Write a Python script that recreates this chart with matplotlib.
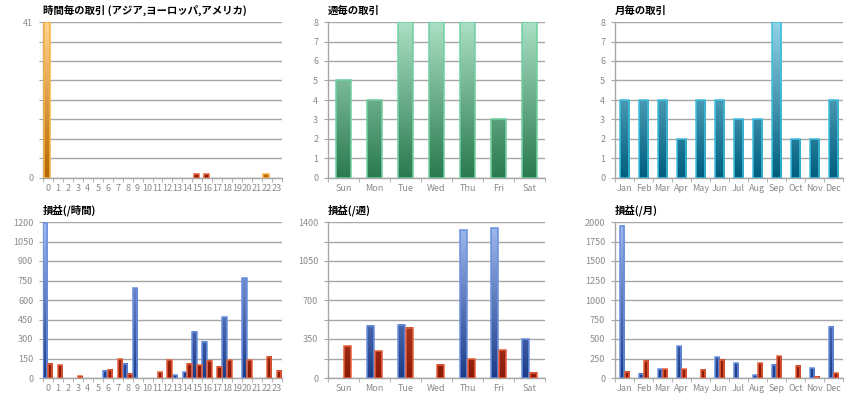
import numpy as np
import matplotlib
matplotlib.use('Agg')
import matplotlib.pyplot as plt
from matplotlib.colors import LinearSegmentedColormap

plt.rcParams['font.family'] = ['Noto Sans CJK JP', 'DejaVu Sans']

hours = [str(h) for h in range(24)]
days = ['Sun', 'Mon', 'Tue', 'Wed', 'Thu', 'Fri', 'Sat']
months = ['Jan', 'Feb', 'Mar', 'Apr', 'May', 'Jun',
          'Jul', 'Aug', 'Sep', 'Oct', 'Nov', 'Dec']

# 取引件数
hour_count_orange = [41, 0, 0, 0, 0, 0, 0, 0, 0, 0, 0, 0,
                     0, 0, 0, 0, 0, 0, 0, 0, 0, 0, 1, 0]
hour_count_red = [0, 0, 0, 0, 0, 0, 0, 0, 0, 0, 0, 0,
                  0, 0, 0, 1, 1, 0, 0, 0, 0, 0, 0, 0]
day_count = [5, 4, 8, 8, 8, 3, 8]
month_count = [4, 4, 4, 2, 4, 4, 3, 3, 8, 2, 2, 4]

# 損益
hour_pl_blue = [1190, 0, 0, 0, 0, 0, 54, 0, 108, 692, 0, 0,
                0, 23, 46, 354, 277, 0, 469, 0, 769, 0, 0, 0]
hour_pl_red = [108, 100, 0, 15, 0, 0, 62, 144, 31, 0, 0, 46,
               138, 0, 108, 100, 131, 85, 138, 0, 138, 0, 162, 54]
day_pl_blue = [0, 467, 476, 0, 1328, 1346, 350]
day_pl_red = [287, 242, 452, 117, 167, 251, 45]
month_pl_blue = [1949, 56, 115, 410, 0, 269, 192, 38, 167, 0, 128, 654]
month_pl_red = [77, 218, 115, 115, 103, 231, 0, 192, 282, 154, 13, 64]

orange = (LinearSegmentedColormap.from_list('o', ['#b56800', '#ffd28e']), '#f8b040')
red = (LinearSegmentedColormap.from_list('r', ['#8a1a08', '#e2704e']), '#e8603c')
green = (LinearSegmentedColormap.from_list('g', ['#2a7a50', '#aadfc4']), '#70d0a0')
teal = (LinearSegmentedColormap.from_list('t', ['#005e7e', '#90d2e6']), '#40c0e0')
blue = (LinearSegmentedColormap.from_list('b', ['#1c3c88', '#a2bcf0']), '#6a90e0')

GRID = '#a6a6a6'
TEXT = '#8a8a8a'


def grad_bars(ax, values, offset, width, style, ymax):
    cmap, edge = style
    for i, v in enumerate(values):
        if v <= 0:
            continue
        x0 = i + offset - width / 2
        g = np.linspace(0, v / ymax, 80).reshape(-1, 1)
        ax.imshow(g, extent=(x0, x0 + width, 0, v), origin='lower', cmap=cmap,
                  vmin=0, vmax=1, aspect='auto', zorder=3, interpolation='bilinear')
    xs = [i + offset for i in range(len(values))]
    hs = [v if v > 0 else np.nan for v in values]
    ax.bar(xs, hs, width, fill=False, edgecolor=edge, linewidth=1.1, zorder=4)


def setup(ax, labels, ymax, label_every=1, only_ends=False, title=''):
    n = len(labels)
    ax.set_xlim(-0.5, n - 0.5)
    ax.set_ylim(0, ymax)
    yt = np.linspace(0, ymax, 9)
    ax.set_yticks(yt)
    if only_ends:
        ylab = [str(int(ymax)) if k == 8 else ('0' if k == 0 else '') for k in range(9)]
    else:
        ylab = [str(int(round(v))) if k % label_every == 0 else '' for k, v in enumerate(yt)]
    ax.set_yticklabels(ylab)
    ax.set_xticks(range(n))
    ax.set_xticklabels(labels)
    ax.set_xticks(np.arange(n + 1) - 0.5, minor=True)
    ax.tick_params(axis='x', which='major', length=0, pad=4, labelsize=6.5, colors=TEXT)
    ax.tick_params(axis='x', which='minor', length=3, color=GRID)
    ax.tick_params(axis='y', length=3, color=GRID, labelsize=6.5, labelcolor=TEXT, pad=4)
    ax.yaxis.grid(True, color=GRID, linewidth=1)
    ax.set_axisbelow(True)
    for s in ['top', 'right']:
        ax.spines[s].set_visible(False)
    for s in ['left', 'bottom']:
        ax.spines[s].set_color(GRID)
        ax.spines[s].set_linewidth(1)
    ax.set_title(title, loc='left', fontsize=7.5, fontweight='bold', pad=6, color='black')


fig = plt.figure(figsize=(8.6, 4), dpi=100)
tl = fig.add_axes([43 / 860, 0.555, 239 / 860, 0.39])
tm = fig.add_axes([328 / 860, 0.555, 217 / 860, 0.39])
tr = fig.add_axes([615 / 860, 0.555, 228 / 860, 0.39])
bl = fig.add_axes([43 / 860, 0.055, 239 / 860, 0.39])
bm = fig.add_axes([328 / 860, 0.055, 217 / 860, 0.39])
br = fig.add_axes([615 / 860, 0.055, 228 / 860, 0.39])

grad_bars(tl, hour_count_orange, -0.08, 0.6, orange, 41)
grad_bars(tl, hour_count_red, -0.08, 0.5, red, 41)
setup(tl, hours, 41, only_ends=True, title='時間毎の取引 (アジア,ヨーロッパ,アメリカ)')

grad_bars(tm, day_count, 0, 0.47, green, 8)
setup(tm, days, 8, title='週毎の取引')

grad_bars(tr, month_count, 0, 0.5, teal, 8)
setup(tr, months, 8, title='月毎の取引')

grad_bars(bl, hour_pl_blue, -0.27, 0.44, blue, 1200)
grad_bars(bl, hour_pl_red, 0.22, 0.44, red, 1200)
setup(bl, hours, 1200, title='損益(/時間)')

grad_bars(bm, day_pl_blue, -0.12, 0.22, blue, 1400)
grad_bars(bm, day_pl_red, 0.12, 0.22, red, 1400)
setup(bm, days, 1400, label_every=2, title='損益(/週)')

grad_bars(br, month_pl_blue, -0.14, 0.24, blue, 2000)
grad_bars(br, month_pl_red, 0.12, 0.24, red, 2000)
setup(br, months, 2000, title='損益(/月)')

fig.savefig('out.png', dpi=100)
